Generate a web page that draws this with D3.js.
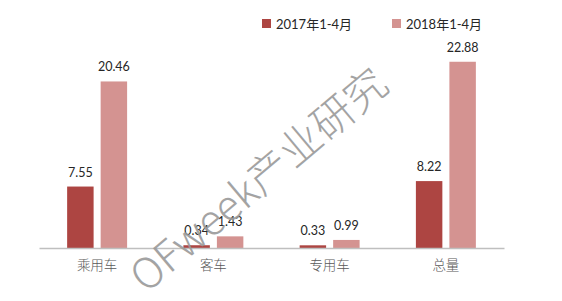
<!DOCTYPE html>
<html>
<head>
<meta charset="utf-8">
<script src="https://cdn.jsdelivr.net/npm/d3@7"></script>
<style>
  html, body { margin: 0; padding: 0; background: #fff; }
  svg { display: block; }
</style>
</head>
<body>
<svg id="chart" width="562" height="301"></svg>
<script>
// Vehicle categories and Jan–Apr volumes for two years
const categories = ["乘用车", "客车", "专用车", "总量"];
const seriesNames = ["2017年1-4月", "2018年1-4月"];
const values2017 = [7.55, 0.34, 0.33, 8.22];
const values2018 = [20.46, 1.43, 0.99, 22.88];
const seriesColors = ["#ad4542", "#d49391"];

const rows = categories.map((c, i) => ({
  category: c,
  items: [
    { series: seriesNames[0], value: values2017[i] },
    { series: seriesNames[1], value: values2018[i] }
  ]
}));

const svg = d3.select("#chart");
const baseY = 248;

const x = d3.scaleBand().domain(categories).range([39, 504]).padding(0);
const xInner = d3.scaleBand().domain(seriesNames).range([0, x.bandwidth()])
  .paddingInner(0.21).paddingOuter(0.84);
const y = d3.scaleLinear().domain([0, 25]).range([baseY, baseY - 25 * 8.14]);
const color = d3.scaleOrdinal().domain(seriesNames).range(seriesColors);

// Bars
const groups = svg.append("g").selectAll("g").data(rows).join("g")
  .attr("transform", d => `translate(${x(d.category)},0)`);

groups.selectAll("rect").data(d => d.items).join("rect")
  .attr("x", d => xInner(d.series))
  .attr("y", d => y(d.value))
  .attr("width", xInner.bandwidth())
  .attr("height", d => baseY - y(d.value))
  .attr("fill", d => color(d.series));

// Value labels
groups.selectAll("text").data(d => d.items).join("text")
  .attr("x", d => xInner(d.series) + xInner.bandwidth() / 2)
  .attr("y", d => y(d.value) - 10)
  .attr("text-anchor", "middle")
  .attr("font-family", "Lato, 'Noto Sans', sans-serif")
  .attr("font-size", 12.5)
  .attr("fill", "#262626")
  .text(d => d.value.toFixed(2));

// Category axis
const axis = svg.append("g").attr("transform", `translate(0,${baseY})`)
  .call(d3.axisBottom(x).tickSize(0).tickPadding(12));
axis.select(".domain").attr("stroke", "#bfbfbf").attr("stroke-width", 1.3);
axis.selectAll("text")
  .attr("font-family", "'Noto Sans CJK SC', sans-serif")
  .attr("font-size", 13.5)
  .attr("font-weight", 300)
  .attr("fill", "#595959");

// Legend
const legend = svg.append("g").selectAll("g").data(seriesNames).join("g")
  .attr("transform", (d, i) => `translate(${262 + i * 130},19)`);
legend.append("rect").attr("width", 9).attr("height", 9)
  .attr("fill", d => color(d));
legend.append("text")
  .attr("x", 14).attr("y", 9.5)
  .attr("font-family", "Lato, 'Noto Sans CJK SC', sans-serif")
  .attr("font-size", 13)
  .attr("fill", "#262626")
  .text(d => d);

// Watermark
svg.append("text")
  .attr("x", 146).attr("y", 294)
  .attr("transform", "rotate(-40,146,294)")
  .attr("font-family", "'Noto Sans CJK SC', sans-serif")
  .attr("font-size", 42)
  .attr("font-weight", 200)
  .attr("fill", "none")
  .attr("stroke", "#9a9a9a")
  .attr("stroke-width", 0)
  .style("fill", "#9a9a9a")
  .style("opacity", 0.9)
  .text("OFweek产业研究");
</script>
</body>
</html>
